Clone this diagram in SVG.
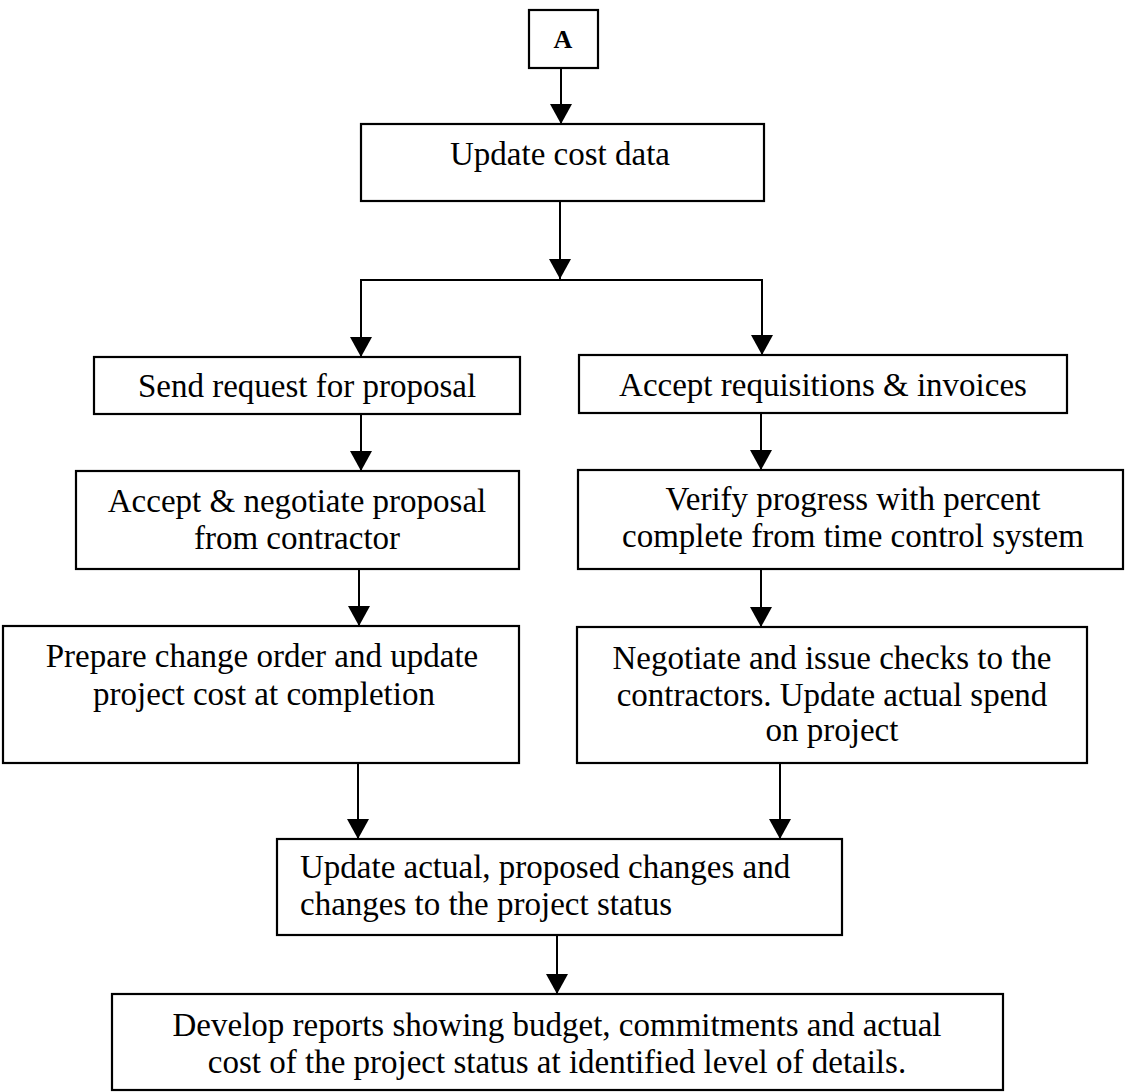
<svg xmlns="http://www.w3.org/2000/svg" width="1125" height="1092" viewBox="0 0 1125 1092">
<style>
.box{fill:#fff;stroke:#000;stroke-width:2.2}
.t{font-family:"Liberation Serif","Times New Roman",serif;font-size:33px;fill:#000;text-anchor:middle}
.tl{font-family:"Liberation Serif","Times New Roman",serif;font-size:33px;fill:#000}
.ta{font-family:"Liberation Serif","Times New Roman",serif;font-size:26px;font-weight:bold;fill:#000;text-anchor:middle}
.c{fill:none;stroke:#000;stroke-width:2}
</style>
<defs>
<marker id="arr" markerUnits="userSpaceOnUse" viewBox="0 0 20 22" markerWidth="20" markerHeight="22" refX="20" refY="11" orient="auto">
<path d="M0,0 L20,11 L0,22 z" fill="#000"/>
</marker>
</defs>
<rect width="1125" height="1092" fill="#fff"/>
<g id="connectors">
<line class="c" x1="561" y1="68" x2="561" y2="124" marker-end="url(#arr)"/>
<line class="c" x1="560" y1="201" x2="560" y2="279" marker-end="url(#arr)"/>
<polyline class="c" points="361,356 361,280 762,280 762,355"/>
<line class="c" x1="361" y1="300" x2="361" y2="357" marker-end="url(#arr)"/>
<line class="c" x1="762" y1="300" x2="762" y2="355" marker-end="url(#arr)"/>
<line class="c" x1="361" y1="414" x2="361" y2="471" marker-end="url(#arr)"/>
<line class="c" x1="359" y1="569" x2="359" y2="626" marker-end="url(#arr)"/>
<line class="c" x1="761" y1="413" x2="761" y2="470" marker-end="url(#arr)"/>
<line class="c" x1="761" y1="569" x2="761" y2="627" marker-end="url(#arr)"/>
<line class="c" x1="358" y1="763" x2="358" y2="839" marker-end="url(#arr)"/>
<line class="c" x1="780" y1="763" x2="780" y2="839" marker-end="url(#arr)"/>
<line class="c" x1="557" y1="935" x2="557" y2="994" marker-end="url(#arr)"/>
</g>
<g id="nodeA">
<rect class="box" x="529" y="10" width="69" height="58"/>
<text class="ta" x="563" y="48">A</text>
</g>
<g id="update-cost">
<rect class="box" x="361" y="124" width="403" height="77"/>
<text class="t" x="560" y="165">Update cost data</text>
</g>
<g id="send-request">
<rect class="box" x="94" y="357" width="426" height="57"/>
<text class="t" x="307" y="397">Send request for proposal</text>
</g>
<g id="accept-requisitions">
<rect class="box" x="579" y="355" width="488" height="58"/>
<text class="t" x="823" y="396">Accept requisitions &amp; invoices</text>
</g>
<g id="accept-negotiate">
<rect class="box" x="76" y="471" width="443" height="98"/>
<text class="t" x="297" y="512">Accept &amp; negotiate proposal</text>
<text class="t" x="297" y="549">from contractor</text>
</g>
<g id="verify-progress">
<rect class="box" x="578" y="470" width="545" height="99"/>
<text class="t" x="853" y="510">Verify progress with percent</text>
<text class="t" x="853" y="547">complete from time control system</text>
</g>
<g id="prepare-change">
<rect class="box" x="3" y="626" width="516" height="137"/>
<text class="t" x="262" y="667">Prepare change order and update</text>
<text class="t" x="264" y="705">project cost at completion</text>
</g>
<g id="negotiate-checks">
<rect class="box" x="577" y="627" width="510" height="136"/>
<text class="t" x="832" y="669">Negotiate and issue checks to the</text>
<text class="t" x="832" y="706">contractors. Update actual spend</text>
<text class="t" x="832" y="741">on project</text>
</g>
<g id="update-actual">
<rect class="box" x="277" y="839" width="565" height="96"/>
<text class="tl" x="300" y="878">Update actual, proposed changes and</text>
<text class="tl" x="300" y="915">changes to the project status</text>
</g>
<g id="develop-reports">
<rect class="box" x="112" y="994" width="891" height="96"/>
<text class="t" x="557" y="1036">Develop reports showing budget, commitments and actual</text>
<text class="t" x="557" y="1073">cost of the project status at identified level of details.</text>
</g>
</svg>
